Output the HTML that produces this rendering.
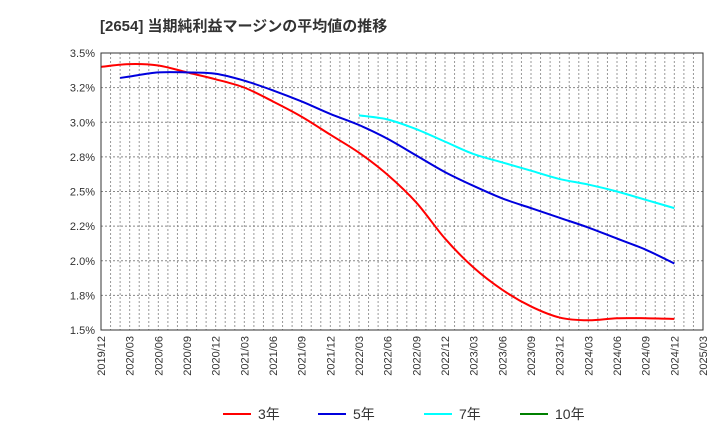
<!DOCTYPE html>
<html><head><meta charset="utf-8">
<style>
body{margin:0;background:#fff;font-family:"Liberation Sans","Noto Sans CJK JP",sans-serif;}
</style></head>
<body>
<svg width="720" height="440" viewBox="0 0 720 440" xmlns="http://www.w3.org/2000/svg" font-family="Liberation Sans, Noto Sans CJK JP, sans-serif">
<text x="100" y="31" font-size="15" font-weight="bold" fill="#333">[2654]  当期純利益マージンの平均値の推移</text>
<g id="grid"></g>
<g id="series"></g>
<g id="axes"></g>
<g id="legend"></g>
</svg>
<script>
const xLabels=["2019/12","2020/03","2020/06","2020/09","2020/12","2021/03","2021/06","2021/09","2021/12","2022/03","2022/06","2022/09","2022/12","2023/03","2023/06","2023/09","2023/12","2024/03","2024/06","2024/09","2024/12","2025/03"];
const yTicks=[1.5,1.75,2.0,2.25,2.5,2.75,3.0,3.25,3.5];
const yTickLabels=["1.5%","1.8%","2.0%","2.2%","2.5%","2.8%","3.0%","3.2%","3.5%"];
const months3=[0,3,6,9,12,15,18,21,24,27,30,33,36,39,42,45,48,51,54,57,60];
const values3=[3.40,3.42,3.41,3.36,3.31,3.25,3.15,3.04,2.91,2.78,2.62,2.42,2.16,1.95,1.79,1.67,1.59,1.57,1.585,1.585,1.58];
const months5=[2,3,6,9,12,15,18,21,24,27,30,33,36,39,42,45,48,51,54,57,60];
const values5=[3.32,3.33,3.36,3.36,3.35,3.30,3.23,3.15,3.06,2.98,2.88,2.76,2.64,2.54,2.45,2.38,2.31,2.24,2.16,2.08,1.98];
const months7=[27,30,33,36,39,42,45,48,51,54,57,60];
const values7=[3.05,3.02,2.95,2.86,2.77,2.71,2.65,2.59,2.55,2.50,2.44,2.38];
const months10=[];
const values10=[];
const L=101,R=703,T=53,B=330;
const totalMonths=63;
const xs=m=>L+(R-L)*m/totalMonths;
const ys=v=>B-(B-T)*(v-1.5)/2.0;
const NS="http://www.w3.org/2000/svg";
function mk(tag,attrs,parent){const e=document.createElementNS(NS,tag);for(const k in attrs)e.setAttribute(k,attrs[k]);parent.appendChild(e);return e;}
const grid=document.getElementById('grid'),axes=document.getElementById('axes'),ser=document.getElementById('series'),leg=document.getElementById('legend');
for(let m=1;m<totalMonths;m++){
  const l=mk('line',{x1:xs(m),x2:xs(m),y1:T,y2:B,stroke:'#999','stroke-dasharray':'2,2','stroke-width':1},grid);
  
  
}
yTicks.forEach((v,i)=>{
  if(i>0&&i<yTicks.length-1){
    const g=mk('line',{x1:L,x2:R,y1:ys(v),y2:ys(v),stroke:'#888','stroke-dasharray':'2,2'},grid);
    
    
  }
  const t=mk('text',{x:L-6,y:ys(v)+4,'text-anchor':'end','font-size':11,fill:'#333'},axes);
  t.textContent=yTickLabels[i];
  
  
});
const frame=mk('rect',{x:L,y:T,width:R-L,height:B-T,fill:'none',stroke:'#333','stroke-width':1},axes);


xLabels.forEach((s,i)=>{
  const x=xs(i*3);
  const t=mk('text',{x:x+4,y:B+6,'text-anchor':'end','font-size':11,fill:'#333',transform:`rotate(-90 ${x+4} ${B+6})`},axes);
  t.textContent=s;
  
  
});
function smooth(pts){
  if(pts.length<2)return '';
  let d=`M${pts[0][0]},${pts[0][1]}`;
  for(let i=0;i<pts.length-1;i++){
    const p0=pts[i-1]||pts[i],p1=pts[i],p2=pts[i+1],p3=pts[i+2]||p2;
    const c1=[p1[0]+(p2[0]-p0[0])/6,p1[1]+(p2[1]-p0[1])/6];
    const c2=[p2[0]-(p3[0]-p1[0])/6,p2[1]-(p3[1]-p1[1])/6];
    d+=` C${c1[0]},${c1[1]} ${c2[0]},${c2[1]} ${p2[0]},${p2[1]}`;
  }
  return d;
}
function drawLine(ms,vs,color,name){
  const pts=ms.map((m,i)=>[xs(m),ys(vs[i])]);
  const p=mk('path',{d:smooth(pts),fill:'none',stroke:color,'stroke-width':2},ser);
  
  
}
drawLine(months3,values3,'#ff0000','line-3yr');
drawLine(months5,values5,'#0000dd','line-5yr');
drawLine(months7,values7,'#00ffff','line-7yr');
drawLine(months10,values10,'#008000','line-10yr');
const legItems=[["3年","#ff0000",223],["5年","#0000dd",318],["7年","#00ffff",424],["10年","#008000",520]];
legItems.forEach(([lab,c,x])=>{
  const g=mk('g',{},leg);
  
  
  mk('line',{x1:x,x2:x+28,y1:414,y2:414,stroke:c,'stroke-width':2},g);
  const t=mk('text',{x:x+35,y:419,'font-size':14,fill:'#333'},g);
  t.textContent=lab;
});
</script>
</body></html>
